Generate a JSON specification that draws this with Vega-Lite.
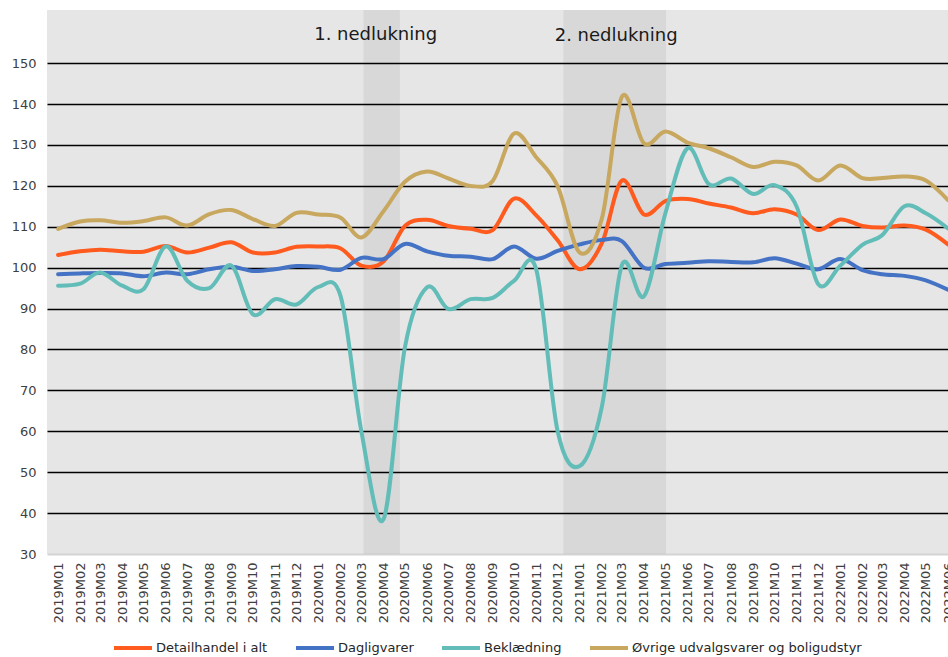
{
  "$schema": "https://vega.github.io/schema/vega-lite/v6.json",
  "autosize": {"type": "none"},
  "width": 901,
  "height": 544,
  "padding": {"left": 47, "top": 10, "right": 0, "bottom": 103},
  "background": "white",
  "config": {
    "view": {"fill": "#e6e6e6", "stroke": null},
    "font": "DejaVu Sans"
  },
  "layer": [
    {
      "data": {"values": [
        {"start": "2020-03-04", "end": "2020-04-24"},
        {"start": "2020-12-09", "end": "2021-05-02"}
      ]},
      "mark": {"type": "rect", "color": "black", "opacity": 0.057},
      "encoding": {
        "x": {
          "field": "start", "type": "temporal",
          "scale": {"type": "utc", "domain": [{"year": 2018, "month": 12, "date": 16, "hours": 12, "utc": true}, {"year": 2022, "month": 6, "date": 1, "utc": true}], "nice": false}
        },
        "x2": {"field": "end"}
      }
    },
    {
      "data": {"values": [
        {"date": "2019-01-01", "Detailhandel i alt": 103.1, "Dagligvarer": 98.4, "Beklædning": 95.6, "Øvrige udvalgsvarer og boligudstyr": 109.5},
        {"date": "2019-02-01", "Detailhandel i alt": 104.0, "Dagligvarer": 98.6, "Beklædning": 96.1, "Øvrige udvalgsvarer og boligudstyr": 111.3},
        {"date": "2019-03-01", "Detailhandel i alt": 104.4, "Dagligvarer": 98.7, "Beklædning": 98.8, "Øvrige udvalgsvarer og boligudstyr": 111.6},
        {"date": "2019-04-01", "Detailhandel i alt": 104.0, "Dagligvarer": 98.6, "Beklædning": 95.6, "Øvrige udvalgsvarer og boligudstyr": 111.0},
        {"date": "2019-05-01", "Detailhandel i alt": 103.9, "Dagligvarer": 97.9, "Beklædning": 94.8, "Øvrige udvalgsvarer og boligudstyr": 111.4},
        {"date": "2019-06-01", "Detailhandel i alt": 105.3, "Dagligvarer": 98.8, "Beklædning": 105.2, "Øvrige udvalgsvarer og boligudstyr": 112.3},
        {"date": "2019-07-01", "Detailhandel i alt": 103.7, "Dagligvarer": 98.4, "Beklædning": 96.8, "Øvrige udvalgsvarer og boligudstyr": 110.3},
        {"date": "2019-08-01", "Detailhandel i alt": 104.9, "Dagligvarer": 99.6, "Beklædning": 95.0, "Øvrige udvalgsvarer og boligudstyr": 113.1},
        {"date": "2019-09-01", "Detailhandel i alt": 106.2, "Dagligvarer": 100.2, "Beklædning": 100.5, "Øvrige udvalgsvarer og boligudstyr": 114.1},
        {"date": "2019-10-01", "Detailhandel i alt": 103.7, "Dagligvarer": 99.2, "Beklædning": 88.6, "Øvrige udvalgsvarer og boligudstyr": 111.9},
        {"date": "2019-11-01", "Detailhandel i alt": 103.7, "Dagligvarer": 99.6, "Beklædning": 92.3, "Øvrige udvalgsvarer og boligudstyr": 110.2},
        {"date": "2019-12-01", "Detailhandel i alt": 105.1, "Dagligvarer": 100.4, "Beklædning": 91.0, "Øvrige udvalgsvarer og boligudstyr": 113.4},
        {"date": "2020-01-01", "Detailhandel i alt": 105.2, "Dagligvarer": 100.2, "Beklædning": 95.3, "Øvrige udvalgsvarer og boligudstyr": 113.0},
        {"date": "2020-02-01", "Detailhandel i alt": 104.7, "Dagligvarer": 99.5, "Beklædning": 93.0, "Øvrige udvalgsvarer og boligudstyr": 112.2},
        {"date": "2020-03-01", "Detailhandel i alt": 100.5, "Dagligvarer": 102.4, "Beklædning": 60.0, "Øvrige udvalgsvarer og boligudstyr": 107.4},
        {"date": "2020-04-01", "Detailhandel i alt": 101.5, "Dagligvarer": 102.1, "Beklædning": 38.5, "Øvrige udvalgsvarer og boligudstyr": 113.8},
        {"date": "2020-05-01", "Detailhandel i alt": 110.2, "Dagligvarer": 105.8, "Beklædning": 80.5, "Øvrige udvalgsvarer og boligudstyr": 121.0},
        {"date": "2020-06-01", "Detailhandel i alt": 111.7, "Dagligvarer": 104.0, "Beklædning": 95.2, "Øvrige udvalgsvarer og boligudstyr": 123.5},
        {"date": "2020-07-01", "Detailhandel i alt": 110.2, "Dagligvarer": 102.9, "Beklædning": 89.9, "Øvrige udvalgsvarer og boligudstyr": 121.8},
        {"date": "2020-08-01", "Detailhandel i alt": 109.5, "Dagligvarer": 102.7, "Beklædning": 92.3, "Øvrige udvalgsvarer og boligudstyr": 120.0},
        {"date": "2020-09-01", "Detailhandel i alt": 109.2, "Dagligvarer": 102.1, "Beklædning": 92.6, "Øvrige udvalgsvarer og boligudstyr": 121.2},
        {"date": "2020-10-01", "Detailhandel i alt": 116.9, "Dagligvarer": 105.2, "Beklædning": 96.8, "Øvrige udvalgsvarer og boligudstyr": 132.8},
        {"date": "2020-11-01", "Detailhandel i alt": 112.8, "Dagligvarer": 102.2, "Beklædning": 99.6, "Øvrige udvalgsvarer og boligudstyr": 127.0},
        {"date": "2020-12-01", "Detailhandel i alt": 106.7, "Dagligvarer": 104.1, "Beklædning": 60.0, "Øvrige udvalgsvarer og boligudstyr": 119.9},
        {"date": "2021-01-01", "Detailhandel i alt": 99.6, "Dagligvarer": 105.7, "Beklædning": 51.5, "Øvrige udvalgsvarer og boligudstyr": 103.7},
        {"date": "2021-02-01", "Detailhandel i alt": 106.0, "Dagligvarer": 106.8, "Beklædning": 66.0, "Øvrige udvalgsvarer og boligudstyr": 112.0},
        {"date": "2021-03-01", "Detailhandel i alt": 121.3, "Dagligvarer": 106.5, "Beklædning": 100.6, "Øvrige udvalgsvarer og boligudstyr": 141.8},
        {"date": "2021-04-01", "Detailhandel i alt": 113.0, "Dagligvarer": 100.0, "Beklædning": 93.0, "Øvrige udvalgsvarer og boligudstyr": 130.4},
        {"date": "2021-05-01", "Detailhandel i alt": 116.3, "Dagligvarer": 100.9, "Beklædning": 113.3, "Øvrige udvalgsvarer og boligudstyr": 133.3},
        {"date": "2021-06-01", "Detailhandel i alt": 116.8, "Dagligvarer": 101.2, "Beklædning": 129.2, "Øvrige udvalgsvarer og boligudstyr": 130.6},
        {"date": "2021-07-01", "Detailhandel i alt": 115.7, "Dagligvarer": 101.6, "Beklædning": 120.4, "Øvrige udvalgsvarer og boligudstyr": 129.2},
        {"date": "2021-08-01", "Detailhandel i alt": 114.7, "Dagligvarer": 101.4, "Beklædning": 121.8, "Øvrige udvalgsvarer og boligudstyr": 127.0},
        {"date": "2021-09-01", "Detailhandel i alt": 113.3, "Dagligvarer": 101.3, "Beklædning": 118.0, "Øvrige udvalgsvarer og boligudstyr": 124.6},
        {"date": "2021-10-01", "Detailhandel i alt": 114.3, "Dagligvarer": 102.3, "Beklædning": 120.2, "Øvrige udvalgsvarer og boligudstyr": 125.9},
        {"date": "2021-11-01", "Detailhandel i alt": 113.0, "Dagligvarer": 101.0, "Beklædning": 114.9, "Øvrige udvalgsvarer og boligudstyr": 125.0},
        {"date": "2021-12-01", "Detailhandel i alt": 109.2, "Dagligvarer": 99.6, "Beklædning": 96.0, "Øvrige udvalgsvarer og boligudstyr": 121.3},
        {"date": "2022-01-01", "Detailhandel i alt": 111.8, "Dagligvarer": 102.1, "Beklædning": 100.5, "Øvrige udvalgsvarer og boligudstyr": 125.0},
        {"date": "2022-02-01", "Detailhandel i alt": 110.2, "Dagligvarer": 99.4, "Beklædning": 105.6, "Øvrige udvalgsvarer og boligudstyr": 121.9},
        {"date": "2022-03-01", "Detailhandel i alt": 109.8, "Dagligvarer": 98.4, "Beklædning": 108.0, "Øvrige udvalgsvarer og boligudstyr": 121.9},
        {"date": "2022-04-01", "Detailhandel i alt": 110.3, "Dagligvarer": 98.0, "Beklædning": 115.0, "Øvrige udvalgsvarer og boligudstyr": 122.3},
        {"date": "2022-05-01", "Detailhandel i alt": 109.3, "Dagligvarer": 96.9, "Beklædning": 113.3, "Øvrige udvalgsvarer og boligudstyr": 121.3},
        {"date": "2022-06-01", "Detailhandel i alt": 105.7, "Dagligvarer": 94.6, "Beklædning": 109.6, "Øvrige udvalgsvarer og boligudstyr": 116.5}
      ]},
      "transform": [
        {"fold": ["Detailhandel i alt", "Dagligvarer", "Beklædning", "Øvrige udvalgsvarer og boligudstyr"], "as": ["serie", "value"]}
      ],
      "mark": {"type": "line", "interpolate": "cardinal", "strokeWidth": 4, "strokeCap": "round", "strokeJoin": "round"},
      "encoding": {
        "x": {
          "field": "date", "type": "temporal",
          "axis": {
            "title": null,
            "labelExpr": "utcFormat(datum.value, '%YM%m')",
            "tickCount": {"interval": "month", "step": 1},
            "labelAngle": 270, "labelFontSize": 13, "labelColor": "#404040",
            "labelPadding": 8, "labelOverlap": false, "labelFlush": false, "labelBound": false,
            "domain": false, "ticks": false, "grid": false
          }
        },
        "y": {
          "field": "value", "type": "quantitative",
          "scale": {"domain": [30, 163], "nice": false, "zero": false},
          "axis": {
            "title": null,
            "values": [30, 40, 50, 60, 70, 80, 90, 100, 110, 120, 130, 140, 150],
            "labelFontSize": 13, "labelColor": "#404040", "labelPadding": 11,
            "domain": false, "ticks": false, "grid": true,
            "gridColor": {"condition": {"test": "datum.value === 30", "value": "#d4d4d4"}, "value": "#000000"},
            "gridWidth": {"condition": {"test": "datum.value === 30", "value": 2}, "value": 1.5}
          }
        },
        "color": {
          "field": "serie", "type": "nominal",
          "scale": {
            "domain": ["Detailhandel i alt", "Dagligvarer", "Beklædning", "Øvrige udvalgsvarer og boligudstyr"],
            "range": ["#ff5b1f", "#4472c4", "#62bdb9", "#c8a75e"]
          },
          "legend": {
            "title": null, "orient": "none", "direction": "horizontal",
            "legendX": 65, "legendY": 617,
            "symbolType": "stroke", "symbolStrokeWidth": 4, "symbolSize": 1444,
            "labelFontSize": 13, "labelColor": "#262626", "labelOffset": 2,
            "columnPadding": 20, "labelLimit": 400, "padding": 0
          }
        }
      }
    },
    {
      "data": {"values": [
        {"date": "2020-03-21", "y": 156.8, "label": "1. nedlukning"},
        {"date": "2021-02-21", "y": 156.6, "label": "2. nedlukning"}
      ]},
      "mark": {"type": "text", "fontSize": 18, "color": "#1a1a1a", "align": "center", "baseline": "middle"},
      "encoding": {
        "x": {"field": "date", "type": "temporal"},
        "y": {"field": "y", "type": "quantitative"},
        "text": {"field": "label"}
      }
    }
  ]
}
